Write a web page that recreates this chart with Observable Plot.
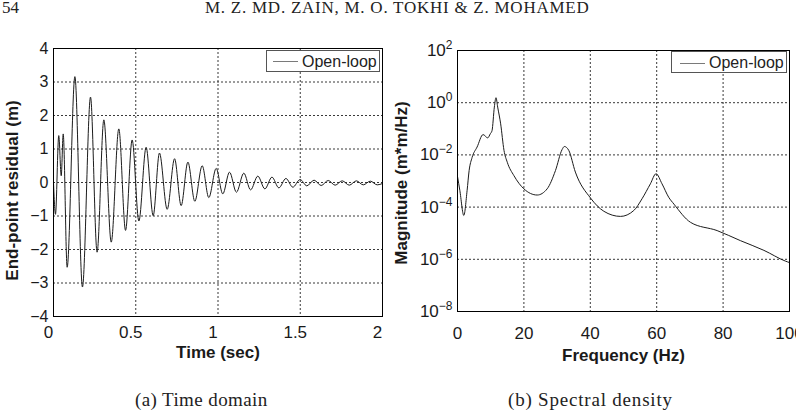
<!DOCTYPE html>
<html>
<head>
<meta charset="utf-8">
<script src="https://cdn.jsdelivr.net/npm/d3@7"></script>
<script src="https://cdn.jsdelivr.net/npm/@observablehq/plot@0.6"></script>
<style>
  html, body { margin: 0; padding: 0; background: #fff; width: 796px; height: 412px; overflow: hidden; position: relative; }
  .abs { position: absolute; white-space: nowrap; line-height: 1; }
  .serif { font-family: "Liberation Serif", "Times New Roman", serif; color: #222; }
  .legend { position: absolute; background: #fff; border: 1px solid #555; box-sizing: border-box;
            font-family: "Liberation Sans", Arial, sans-serif; font-size: 16px; color: #222; }
  .legend .ln { position: absolute; height: 0; border-top: 1px solid #7a7a7a; }
  .legend .tx { position: absolute; line-height: 1; }
  #left, #right { position: absolute; top: 0; }
  #left { left: 0; } #right { left: 388px; }
  svg { overflow: visible; }
</style>
</head>
<body>
<div class="abs serif" style="left:2px; top:-1px; font-size:17px;">54</div>
<div class="abs serif" style="left:205px; top:-1px; font-size:17px; letter-spacing:0.75px;">M. Z. MD. ZAIN, M. O. TOKHI &amp; Z. MOHAMED</div>
<div id="left"></div>
<div id="right"></div>
<div class="legend" style="left:266px; top:50px; width:114px; height:22px;">
  <div class="ln" style="left:6px; top:10px; width:25px;"></div>
  <div class="tx" style="left:35px; top:3px;">Open-loop</div>
</div>
<div class="legend" style="left:671px; top:51px; width:116px; height:22px;">
  <div class="ln" style="left:8px; top:11px; width:25px;"></div>
  <div class="tx" style="left:37px; top:3px;">Open-loop</div>
</div>
<div class="abs serif" style="left:135px; top:390px; font-size:19px; letter-spacing:0.4px;">(a) Time domain</div>
<div class="abs serif" style="left:508px; top:390px; font-size:19px; letter-spacing:0.8px;">(b) Spectral density</div>
<script>
// ---- Time-domain response (extrema) ----
const timeT = [0, 0.012, 0.032, 0.047, 0.059, 0.083, 0.130, 0.176, 0.225, 0.265, 0.306, 0.351, 0.397, 0.438, 0.478, 0.519, 0.563, 0.606, 0.644, 0.691, 0.736, 0.776, 0.817, 0.859, 0.904, 0.944, 0.989, 1.029, 1.070, 1.112, 1.157, 1.198, 1.242, 1.285, 1.328, 1.370, 1.413, 1.455, 1.499, 1.540, 1.584, 1.627, 1.670, 1.712, 1.755, 1.798, 1.841, 1.883, 1.926, 1.968, 2.0];
const timeV = [0, -0.95, 1.40, 0.20, 1.45, -2.53, 3.16, -3.12, 2.55, -2.08, 1.87, -1.78, 1.60, -1.43, 1.27, -1.15, 1.05, -0.99, 0.88, -0.80, 0.71, -0.69, 0.61, -0.56, 0.50, -0.45, 0.42, -0.34, 0.31, -0.29, 0.28, -0.22, 0.19, -0.19, 0.16, -0.16, 0.12, -0.14, 0.09, -0.10, 0.07, -0.09, 0.06, -0.08, 0.05, -0.08, 0.05, -0.07, 0.04, -0.07, -0.03];

// ---- Spectral density ----
const freqHz = [0, 0.7, 1.9, 2.9, 3.5, 4.4, 5.9, 7.7, 9.1, 9.9, 10.4, 11.1, 11.6, 12.1, 13.0, 14.0, 15.0, 17.0, 20.0, 24.0, 27.0, 29.5, 31.5, 32.2, 33.5, 35.5, 40.1, 44.1, 49.1, 53.1, 55.6, 58.1, 59.8, 61.6, 63.6, 65.2, 70.2, 78.2, 85.2, 92.3, 98.8, 100];
const magnitude = [1.5e-3, 4.4e-4, 4.8e-5, 4.4e-4, 2.5e-3, 8e-3, 2e-2, 6e-2, 4.5e-2, 6.5e-2, 8.5e-2, 0.68, 1.55, 0.68, 0.155, 1.5e-2, 5.2e-3, 1.6e-3, 5e-4, 2.9e-4, 5e-4, 2.5e-3, 1.6e-2, 2.1e-2, 1.5e-2, 2.2e-3, 2.2e-4, 6.9e-5, 4.4e-5, 7.4e-5, 2.1e-4, 7.8e-4, 1.9e-3, 7.8e-4, 2.4e-4, 1.3e-4, 2.6e-5, 1.26e-5, 5.2e-6, 2.2e-6, 8.5e-7, 7.5e-7];

// ---- Ticks ----
const xTicksL = [0, 0.5, 1, 1.5, 2];
const xTickLabelsL = ["0", "0.5", "1", "1.5", "2"];
const yTicksL = [-4, -3, -2, -1, 0, 1, 2, 3, 4];
const yTickLabelsL = ["−4", "−3", "−2", "−1", "0", "1", "2", "3", "4"];
const xGridL = [0.5, 1, 1.5];
const yGridL = [-3, -2, -1, 0, 1, 2, 3];

const xTicksR = [0, 20, 40, 60, 80, 100];
const xTickLabelsR = ["0", "20", "40", "60", "80", "100"];
const yTicksR = [1e-8, 1e-6, 1e-4, 1e-2, 1, 1e2];
const yTickLabelsR = ["10^−8", "10^−6", "10^−4", "10^−2", "10^0", "10^2"];
const xGridR = [20, 40, 60, 80];
const yGridR = [1e-6, 1e-4, 1e-2, 1];

const seriesName = "Open-loop";
const titles = {
  xL: "Time (sec)", yL: "End-point residual (m)",
  xR: "Frequency (Hz)", yR: "Magnitude (m*m/Hz)"
};

const timeRows = timeT.map((t, i) => ({t, v: timeV[i], s: seriesName}));
const specRows = freqHz.map((f, i) => ({f, m: magnitude[i], s: seriesName}));

const lookup = (vals, labels) => d => {
  const i = vals.findIndex(v => Math.abs(v - d) <= Math.abs(v) * 1e-9 + 1e-12);
  return i < 0 ? "" : labels[i];
};

const FONT = '"Liberation Sans", Arial, Helvetica, sans-serif';
const gridStyle = {stroke: "#222", strokeOpacity: 1, strokeWidth: 0.9, strokeDasharray: "2,2"};

const left = Plot.plot({
  width: 388, height: 372,
  marginLeft: 53, marginRight: 6, marginTop: 48, marginBottom: 56,
  style: {fontFamily: FONT, fontSize: "17px", color: "#1a1a1a", background: "transparent"},
  x: {domain: [0, 2], axis: null},
  y: {domain: [-4, 4], axis: null},
  marks: [
    Plot.gridX(xGridL, gridStyle),
    Plot.gridY(yGridL, gridStyle),
    Plot.line(timeRows, {x: "t", y: "v", stroke: "#1c1c1c", strokeWidth: 1, curve: "monotone-x"}),
    Plot.frame({stroke: "#000", strokeWidth: 1}),
    Plot.axisX(xTicksL, {tickSize: 0, tickPadding: 9, dx: -5, fontSize: 17, label: null,
      tickFormat: lookup(xTicksL, xTickLabelsL)}),
    Plot.axisY(yTicksL, {tickSize: 0, tickPadding: 5, fontSize: 16, label: null,
      tickFormat: lookup(yTicksL, yTickLabelsL)}),
    Plot.text([titles.xL], {frameAnchor: "bottom", dy: 41, fontWeight: "bold", fontSize: 17}),
    Plot.text([titles.yL], {frameAnchor: "left", textAnchor: "middle", dx: -41, dy: 8, rotate: -90, fontWeight: "bold", fontSize: 17})
  ]
});

const right = Plot.plot({
  width: 408, height: 372,
  marginLeft: 69, marginRight: 7, marginTop: 50, marginBottom: 61,
  style: {fontFamily: FONT, fontSize: "17px", color: "#1a1a1a", background: "transparent"},
  x: {domain: [0, 100], axis: null},
  y: {type: "log", domain: [1e-8, 1e2], axis: null},
  marks: [
    Plot.gridX(xGridR, gridStyle),
    Plot.gridY(yGridR, gridStyle),
    Plot.line(specRows, {x: "f", y: "m", stroke: "#1c1c1c", strokeWidth: 1, curve: "monotone-x"}),
    Plot.frame({stroke: "#000", strokeWidth: 1}),
    Plot.axisX(xTicksR, {tickSize: 0, tickPadding: 15, fontSize: 17, label: null,
      tickFormat: lookup(xTicksR, xTickLabelsR)}),
    Plot.axisY(yTicksR, {tickSize: 0, tickPadding: 5, fontSize: 17, label: null,
      tickFormat: lookup(yTicksR, yTickLabelsR)}),
    Plot.text([titles.xR], {frameAnchor: "bottom", dy: 49, fontWeight: "bold", fontSize: 17}),
    Plot.text([titles.yR], {frameAnchor: "left", textAnchor: "middle", dx: -56, dy: 2, rotate: -90, fontWeight: "bold", fontSize: 17})
  ]
});

// superscript exponents for "10^n" labels
const NS = "http://www.w3.org/2000/svg";
right.querySelectorAll("text").forEach(t => {
  const m = (t.textContent || "").match(/^10\^(.+)$/);
  if (!m) return;
  t.textContent = "";
  const base = document.createElementNS(NS, "tspan");
  base.textContent = "10";
  const sup = document.createElementNS(NS, "tspan");
  sup.textContent = m[1];
  sup.setAttribute("dy", "-7");
  sup.setAttribute("font-size", "12");
  t.append(base, sup);
});

document.getElementById("left").append(left);
document.getElementById("right").append(right);
</script>
</body>
</html>
